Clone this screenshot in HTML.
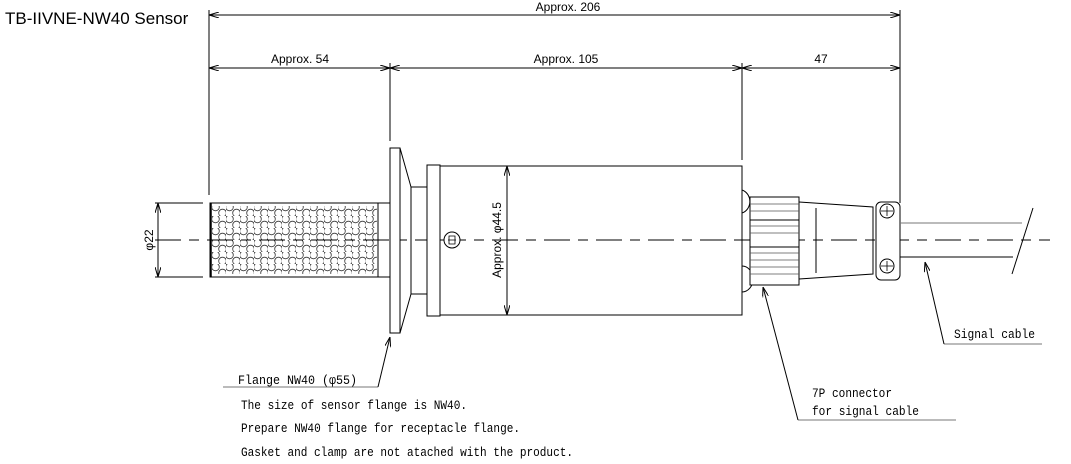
<!DOCTYPE html>
<html><head><meta charset="utf-8"><style>
html,body{margin:0;padding:0;background:#fff;}
svg{display:block}
.t{font-family:"Liberation Sans",sans-serif;font-size:12px;fill:#000}
.m{font-family:"Liberation Mono",monospace;font-size:13px;fill:#000}
</style></head><body>
<svg width="1071" height="464" viewBox="0 0 1071 464" xmlns="http://www.w3.org/2000/svg">
<defs>
<marker id="a" viewBox="0 0 10 6" refX="10" refY="3" markerWidth="10" markerHeight="6" orient="auto-start-reverse" markerUnits="userSpaceOnUse"><path d="M0,0 L10,3 L0,6" fill="none" stroke="#000" stroke-width="1"/></marker>
<pattern id="holes" x="212" y="204" width="14" height="12" patternUnits="userSpaceOnUse">
<circle cx="3.5" cy="3" r="3.8" fill="none" stroke="#333" stroke-width="0.8"/>
<circle cx="10.5" cy="9" r="3.8" fill="none" stroke="#333" stroke-width="0.8"/>
</pattern>
</defs>
<text x="5" y="24" font-family="'Liberation Sans',sans-serif" font-size="17">TB-IIVNE-NW40 Sensor</text>
<g stroke="#000" stroke-width="1" fill="none">
<line x1="209" y1="10" x2="209" y2="195"/>
<line x1="900" y1="10" x2="900" y2="203"/>
<line x1="390" y1="63" x2="390" y2="141"/>
<line x1="742" y1="63" x2="742" y2="160"/>
<line x1="209" y1="15" x2="900" y2="15" marker-start="url(#a)" marker-end="url(#a)"/>
<line x1="209" y1="68" x2="390" y2="68" marker-start="url(#a)" marker-end="url(#a)"/>
<line x1="390" y1="68" x2="742" y2="68" marker-start="url(#a)" marker-end="url(#a)"/>
<line x1="742" y1="68" x2="900" y2="68" marker-start="url(#a)" marker-end="url(#a)"/>
<line x1="155" y1="203" x2="203" y2="203"/>
<line x1="155" y1="277" x2="203" y2="277"/>
<line x1="158" y1="203" x2="158" y2="277" marker-start="url(#a)" marker-end="url(#a)"/>
<rect x="210" y="203" width="168" height="74" fill="#fff" stroke="#000"/>
<rect x="212" y="206" width="165" height="68" fill="url(#holes)" stroke="none"/>
<line x1="211" y1="203" x2="211" y2="277" stroke-width="1.5"/>
<rect x="378" y="203" width="12" height="74"/>
<line x1="155" y1="240" x2="1050" y2="240" stroke-dasharray="26,8,10,8"/>
<rect x="390" y="148" width="10" height="185" fill="#fff"/>
<path d="M400,148 L411,187 L427,187 M400,333 L411,294 L427,294 M411,187 L411,294"/>
<rect x="427" y="165" width="13" height="151" fill="#fff"/>
<rect x="440" y="166" width="302" height="149" fill="#fff"/>
<line x1="440" y1="240" x2="742" y2="240" stroke-dasharray="26,8,10,8"/>
<circle cx="452" cy="240" r="8" fill="#fff"/>
<path d="M449,236 h6 v8 h-6 z M448,240 h8" stroke-width="0.8"/>
<line x1="507" y1="166" x2="507" y2="315" marker-start="url(#a)" marker-end="url(#a)"/>
<path d="M742,190 A11,12 0 0 1 742,213 M742,266 A11,13 0 0 1 742,292"/>
<rect x="750" y="197" width="49" height="88" fill="#fff"/>
<g stroke="#555" stroke-width="0.8">
<line x1="750" y1="204" x2="799" y2="204"/><line x1="750" y1="211" x2="799" y2="211"/>
<line x1="750" y1="226" x2="799" y2="226"/><line x1="750" y1="233" x2="799" y2="233"/>
<line x1="750" y1="253" x2="799" y2="253"/><line x1="750" y1="260" x2="799" y2="260"/>
<line x1="750" y1="267" x2="799" y2="267"/><line x1="750" y1="274" x2="799" y2="274"/>
</g>
<line x1="750" y1="220" x2="799" y2="220"/><line x1="750" y1="247" x2="799" y2="247"/>
<path d="M799,202 L873,207 L873,274 L799,279"/>
<line x1="816" y1="208" x2="816" y2="273"/>
<rect x="876" y="202" width="24" height="78" rx="5" fill="#fff"/>
<circle cx="887" cy="211" r="7"/><path d="M881,211 h12 M887,206 v10" stroke-width="0.8"/>
<circle cx="887" cy="266" r="7"/><path d="M881,266 h12 M887,261 v10" stroke-width="0.8"/>
<line x1="900" y1="223" x2="1022" y2="223" stroke="#777"/>
<line x1="900" y1="257" x2="1013" y2="257"/>
<line x1="1033" y1="208" x2="1012" y2="274"/>
<path d="M223,387 L378,387" stroke="#777"/>
<line x1="378" y1="387" x2="390" y2="337" marker-end="url(#a)"/>
<path d="M944,344 L1042,344" stroke="#777"/>
<line x1="944" y1="344" x2="925" y2="262" marker-end="url(#a)"/>
<path d="M798,420 L956,420" stroke="#777"/>
<line x1="798" y1="420" x2="763" y2="287" marker-end="url(#a)"/>
</g>
<text class="t" x="568" y="11" text-anchor="middle">Approx. 206</text>
<text class="t" x="300" y="63" text-anchor="middle">Approx. 54</text>
<text class="t" x="566" y="63" text-anchor="middle">Approx. 105</text>
<text class="t" x="821" y="63" text-anchor="middle">47</text>
<text class="t" transform="translate(153,240) rotate(-90)" text-anchor="middle">φ22</text>
<text class="t" transform="translate(501,240) rotate(-90)" text-anchor="middle">Approx.  φ44.5</text>
<text class="m" x="238" y="384" textLength="119" lengthAdjust="spacingAndGlyphs">Flange NW40 (φ55)</text>
<text class="m" x="241" y="409" textLength="226" lengthAdjust="spacingAndGlyphs">The size of sensor flange is NW40.</text>
<text class="m" x="241" y="432" textLength="279" lengthAdjust="spacingAndGlyphs">Prepare NW40 flange for receptacle flange.</text>
<text class="m" x="241" y="456" textLength="332" lengthAdjust="spacingAndGlyphs">Gasket and clamp are not atached with the product.</text>
<text class="m" x="954" y="338" textLength="81" lengthAdjust="spacingAndGlyphs">Signal cable</text>
<text class="m" x="812" y="397" textLength="80" lengthAdjust="spacingAndGlyphs">7P connector</text>
<text class="m" x="812" y="415" textLength="107" lengthAdjust="spacingAndGlyphs">for signal cable</text>
</svg>
</body></html>
